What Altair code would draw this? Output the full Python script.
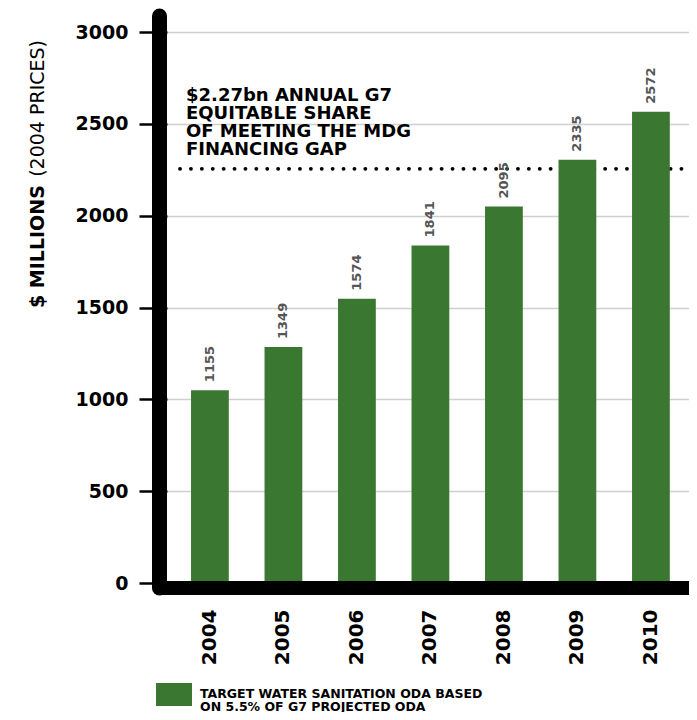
import altair as alt
import pandas as pd

years = ["2004", "2005", "2006", "2007", "2008", "2009", "2010"]
bar_values = [1050, 1285, 1548, 1838, 2050, 2305, 2566]
label_values = [1155, 1349, 1574, 1841, 2095, 2335, 2572]
target = 2255
y_ticks = [0, 500, 1000, 1500, 2000, 2500, 3000]

annotation = ["$2.27bn ANNUAL G7", "EQUITABLE SHARE", "OF MEETING THE MDG", "FINANCING GAP"]
legend_text = ["TARGET WATER SANITATION ODA BASED", "ON 5.5% OF G7 PROJECTED ODA"]

GREEN = "#3a7831"
FONT = "DejaVu Sans"

df = pd.DataFrame({"year": years, "bar": bar_values, "label": label_values})
one = pd.DataFrame({"k": [0]})

base = alt.Chart(df).encode(
    x=alt.X(
        "year:N",
        title=None,
        sort=years,
        scale=alt.Scale(paddingInner=0.486, paddingOuter=0.294, align=0.556),
        axis=alt.Axis(
            labelAngle=270, domain=False, ticks=False, labelPadding=26,
            labelFont=FONT, labelFontSize=20, labelFontWeight="bold",
            labelColor="black", grid=False,
        ),
    ),
    y=alt.Y(
        "bar:Q",
        title=None,
        scale=alt.Scale(domain=[0, 3000], nice=False),
        axis=alt.Axis(
            values=y_ticks, format="d", domain=False, tickSize=28, tickWidth=2.5,
            tickColor="black", labelPadding=11, labelFont=FONT,
            labelFontSize=19, labelFontWeight="bold", labelColor="black",
            grid=True, gridColor="#cfcfcf", gridWidth=1.5,
        ),
    ),
)

dotted = alt.Chart(one).mark_rule(
    strokeDash=[0.1, 10.8], strokeCap="round", strokeWidth=3.8, color="black"
).encode(y=alt.datum(target), x=alt.value(13), x2=alt.value(522))

bars = base.mark_bar(color=GREEN)

labels = base.mark_text(
    angle=270, align="left", baseline="middle", dx=8,
    font=FONT, fontSize=13, fontWeight="bold", color="#555555",
).encode(text="label:Q")

vline = alt.Chart(one).mark_rule(
    strokeWidth=15, strokeCap="round", color="black"
).encode(x=alt.value(-7.5), y=alt.value(-16), y2=alt.value(556))

hline = alt.Chart(one).mark_rule(
    strokeWidth=14, strokeCap="round", color="black"
).encode(x=alt.value(-7.5), x2=alt.value(560), y=alt.value(556))

ytitle_bold = alt.Chart(one).mark_text(
    angle=270, align="left", baseline="middle", font=FONT,
    fontSize=19, fontWeight="bold", color="black",
).encode(x=alt.value(-129), y=alt.value(276), text=alt.value("$ MILLIONS"))

ytitle_light = alt.Chart(one).mark_text(
    angle=270, align="right", baseline="middle", font=FONT,
    fontSize=19, fontWeight="normal", color="black",
).encode(x=alt.value(-129), y=alt.value(8), text=alt.value("(2004 PRICES)"))

annot = alt.Chart(one).mark_text(
    align="left", baseline="alphabetic", font=FONT, fontSize=18,
    fontWeight="bold", lineHeight=18, color="black",
).encode(x=alt.value(19), y=alt.value(68.7), text=alt.value(annotation))

legend_box = alt.Chart(one).mark_rect(color=GREEN).encode(
    x=alt.value(-11), x2=alt.value(25), y=alt.value(651), y2=alt.value(674)
)

legend_lbl = alt.Chart(one).mark_text(
    align="left", baseline="alphabetic", font=FONT, fontSize=12.5,
    fontWeight="bold", lineHeight=13, color="black",
).encode(x=alt.value(33), y=alt.value(666), text=alt.value(legend_text))

chart = alt.layer(
    dotted, bars, labels, vline, hline, ytitle_bold, ytitle_light, annot,
    legend_box, legend_lbl,
).properties(
    width=522,
    height=551,
    autosize=alt.AutoSizeParams(type="none"),
    padding={"left": 159, "top": 24, "right": 0, "bottom": 129},
).configure_view(stroke=None)

chart.save("out.html", embed_options={"renderer": "svg", "actions": False})
